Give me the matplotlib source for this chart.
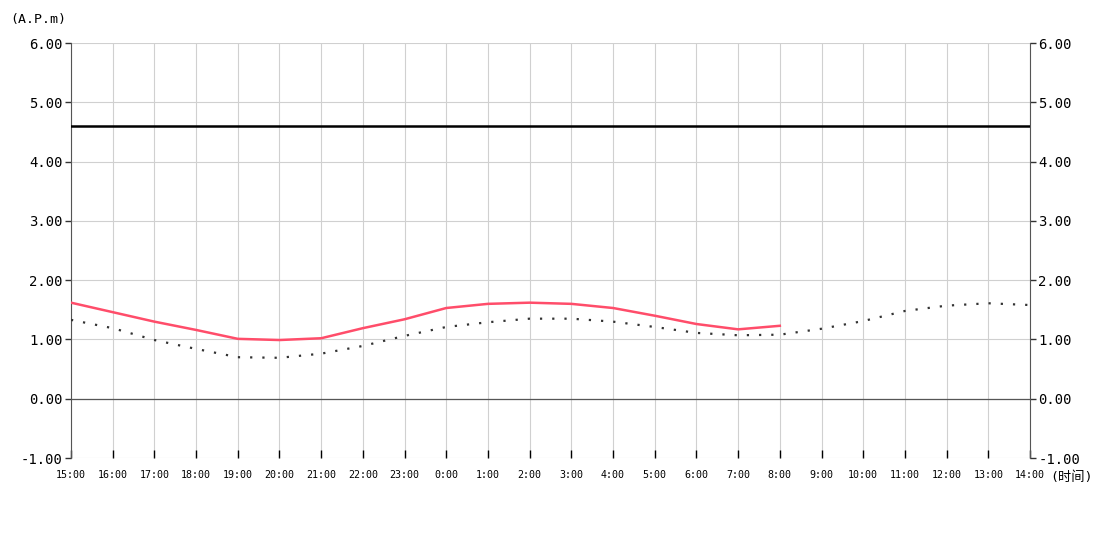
import numpy as np
import matplotlib.pyplot as plt

plt.rcParams['font.family'] = ['DejaVu Sans Mono', 'Noto Sans CJK SC']

hours = ['15:00', '16:00', '17:00', '18:00', '19:00', '20:00', '21:00', '22:00',
         '23:00', '0:00', '1:00', '2:00', '3:00', '4:00', '5:00', '6:00',
         '7:00', '8:00', '9:00', '10:00', '11:00', '12:00', '13:00', '14:00']

actual = [1.62, 1.46, 1.30, 1.16, 1.01, 0.99, 1.02, 1.19, 1.34, 1.53, 1.60, 1.62,
          1.60, 1.53, 1.40, 1.26, 1.17, 1.23]

forecast = [1.33, 1.19, 0.99, 0.84, 0.70, 0.69, 0.76, 0.89, 1.06, 1.21, 1.29, 1.35,
            1.35, 1.30, 1.21, 1.11, 1.07, 1.08, 1.18, 1.31, 1.48, 1.57, 1.61, 1.58]

warning_level = 4.60

yticks = [-1, 0, 1, 2, 3, 4, 5, 6]

fig = plt.figure(figsize=(11, 5.5), dpi=100)
ax = fig.add_axes([71/1100, 92/550, (1030-71)/1100, (458-43)/550])

x = np.arange(len(hours))
ax.plot(x[:len(actual)], actual, color='#ff4d6a', lw=1.8, zorder=4)
ax.plot(x, forecast, color='#333333', lw=1.6, linestyle=(0, (1, 4.5)), zorder=3)
ax.axhline(warning_level, color='black', lw=1.8, zorder=5)
ax.axhline(0, color='#555555', lw=0.9, zorder=2)

ax.set_xlim(0, len(hours) - 1)
ax.set_ylim(-1, 6)
ax.set_xticks(x)
ax.set_xticklabels(hours, fontsize=7.2)
ax.set_yticks(yticks)
ax.set_yticklabels(['%.2f' % v for v in yticks], fontsize=10)

ax.grid(True, color='#d0d0d0', lw=0.8, zorder=0)
ax.set_axisbelow(True)

for s in ['top', 'bottom']:
    ax.spines[s].set_visible(False)
ax.spines['left'].set_color('#555555')
ax.spines['right'].set_color('#555555')

ax.tick_params(axis='x', direction='in', length=6, width=1, color='black', pad=9)
ax.tick_params(axis='y', direction='out', length=4, width=1, color='#333333',
               left=True, right=True, labelleft=True, labelright=True, pad=2)

fig.text(10/1100, 1 - 20/550, '(A.P.m)', fontsize=9.5, va='center', ha='left')
fig.text(1050/1100, 1 - 477/550, '(时间)', fontsize=9.5, va='center', ha='left')

plt.savefig('out.png', dpi=100)
